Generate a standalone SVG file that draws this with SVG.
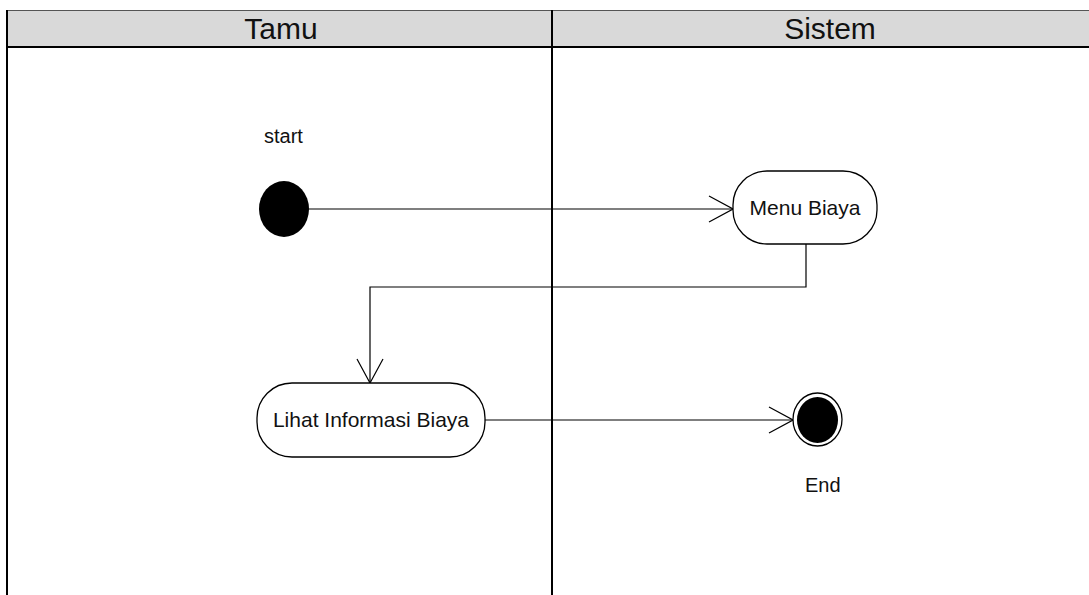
<svg xmlns="http://www.w3.org/2000/svg" width="1089" height="595" viewBox="0 0 1089 595">
  <style>
    .lane { stroke: #000; stroke-width: 2; fill: none; }
    .head { font-family: "Liberation Sans", Arial, sans-serif; font-size: 30px; fill: #111; text-anchor: middle; }
    .lbl { font-family: "Liberation Sans", Arial, sans-serif; font-size: 21px; fill: #111; }
    .act { fill: #fff; stroke: #000; stroke-width: 1.3; }
    .flow { fill: none; stroke: #000; stroke-width: 1.2; }
  </style>
  <defs>
    <marker id="open" viewBox="0 0 26 28" refX="25" refY="14" markerWidth="26" markerHeight="28" markerUnits="userSpaceOnUse" orient="auto">
      <path d="M1,1 L25,14 L1,27" fill="none" stroke="#000" stroke-width="1.2"/>
    </marker>
  </defs>

  <rect width="1089" height="595" fill="#fff"/>

  <!-- swimlane header -->
  <g id="lanes">
    <rect x="7" y="10" width="1082" height="37" fill="#d9d9d9"/>
    <line x1="7" y1="10.5" x2="1089" y2="10.5" stroke="#555" stroke-width="1"/>
    <line class="lane" x1="7" y1="47" x2="1089" y2="47"/>
    <line class="lane" x1="7" y1="10" x2="7" y2="595"/>
    <line class="lane" x1="552" y1="10" x2="552" y2="595"/>
    <text class="head" x="281" y="39">Tamu</text>
    <text class="head" x="830" y="39">Sistem</text>
  </g>

  <!-- connectors -->
  <g id="connectors">
    <line class="flow" x1="309" y1="209" x2="733" y2="209" marker-end="url(#open)"/>
    <polyline class="flow" points="806,244 806,287 370,287 370,383" marker-end="url(#open)"/>
    <line class="flow" x1="485" y1="420" x2="793" y2="420" marker-end="url(#open)"/>
  </g>

  <!-- initial node -->
  <g id="start">
    <text class="lbl" x="264" y="143" style="font-size:20px">start</text>
    <ellipse cx="284" cy="209" rx="25" ry="28" fill="#000"/>
  </g>

  <g id="menu-biaya">
    <rect class="act" x="733" y="171" width="144" height="73" rx="34" ry="34"/>
    <text class="lbl" x="805" y="215" text-anchor="middle">Menu Biaya</text>
  </g>

  <g id="lihat-informasi-biaya">
    <rect class="act" x="257" y="383" width="228" height="74" rx="35" ry="35"/>
    <text class="lbl" x="371" y="427" text-anchor="middle">Lihat Informasi Biaya</text>
  </g>

  <!-- final node -->
  <g id="end">
    <ellipse cx="817.5" cy="419.5" rx="24.5" ry="26.5" fill="#fff" stroke="#000" stroke-width="1.3"/>
    <ellipse cx="817.5" cy="420" rx="20.5" ry="23" fill="#000"/>
    <text class="lbl" x="805" y="492" style="font-size:20px">End</text>
  </g>
</svg>
